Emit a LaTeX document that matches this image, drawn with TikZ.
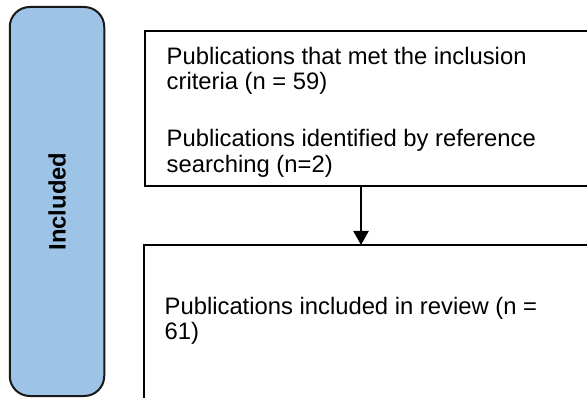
\documentclass[tikz,border=0pt]{standalone}
\usepackage{fontspec}
\setmainfont{Liberation Sans}
\usetikzlibrary{arrows.meta}
\definecolor{bandblue}{HTML}{9DC3E6}
\begin{document}
\begin{tikzpicture}[x=1pt,y=-1pt,
  stagebox/.style={draw=black!90, line width=2pt, fill=bandblue, rounded corners=20pt, inner sep=0pt, outer sep=0pt},
  stagelabel/.style={rotate=90, inner sep=0pt, font=\fontsize{23.8}{25}\selectfont\bfseries},
  flowbox/.style={draw=black, line width=2pt, fill=white, inner sep=0pt, outer sep=0pt},
  flowtext/.style={anchor=base west, inner sep=0pt, font=\fontsize{23.8}{25}\selectfont},
  flowarrow/.style={draw=black, line width=2.4pt, -{Triangle[length=14pt,width=15pt]}}]
\clip (0,0) rectangle (587,398);
% stage band
\node[stagebox, minimum width=94.5pt, minimum height=389pt] (stage) at (57,201.5) {};
\node[stagelabel] (stagetxt) at (stage.center) {Included};
% boxes
\node[flowbox, anchor=north west, minimum width=480pt, minimum height=155pt] (crit) at (145,31) {};
\node[flowbox, anchor=north west, minimum width=480pt, minimum height=200pt] (incl) at (144,245) {};
% arrow
\coordinate (arrx) at (361,0);
\draw[flowarrow] (crit.south -| arrx) -- (incl.north -| arrx);
% texts
\node[flowtext] (t1) at (166.5,65) {Publications that met the inclusion};
\node[flowtext] (t2) at (166.5,90) {criteria (n = 59)};
\node[flowtext] (t3) at (166.5,147) {Publications identified by reference};
\begin{scope}
\clip (146,32) rectangle (625,177);
\node[flowtext] (t4) at (166.5,173) {searching (n=2)};
\end{scope}
\node[flowtext] (t5) at (164.5,315) {Publications included in review (n =};
\node[flowtext] (t6) at (164.5,340) {61)};
\end{tikzpicture}
\end{document}
